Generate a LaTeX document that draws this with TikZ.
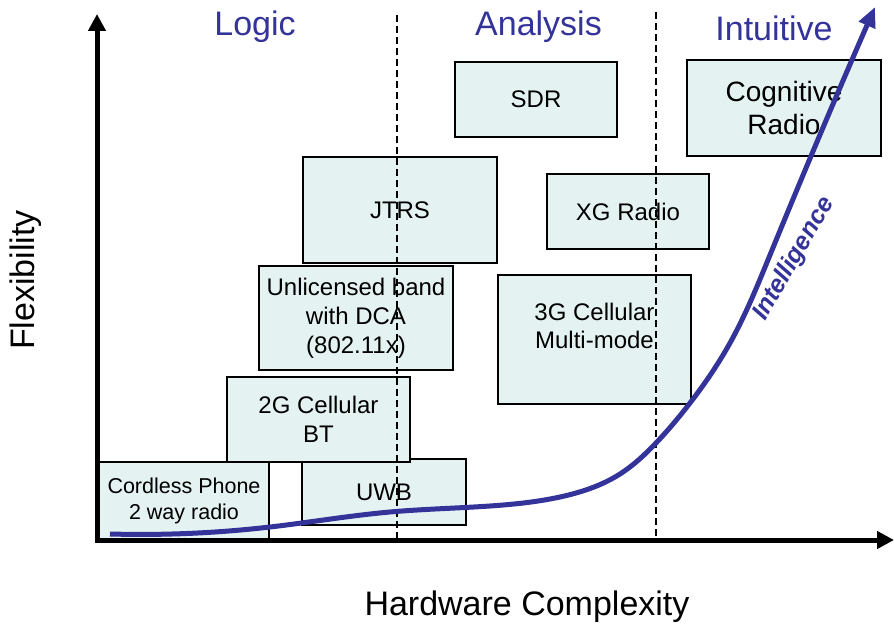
\documentclass[tikz,border=0pt]{standalone}
\usepackage{fontspec}
\setmainfont{Liberation Sans}
\usetikzlibrary{arrows.meta}
\usetikzlibrary{hobby}
\definecolor{boxfill}{RGB}{229,242,242}
\definecolor{smartblue}{RGB}{51,51,153}
\newcommand{\sizedfont}[1]{\fontsize{#1}{1.2\dimexpr #1pt\relax}\selectfont}
\tikzstyle{radio box}=[draw, line width=1.6pt, fill=boxfill, inner sep=0pt, align=center, font=\sizedfont{24}]
\tikzstyle{box text}=[align=center, font=\sizedfont{24}]
\tikzstyle{phase label}=[text=smartblue, font=\sizedfont{34}]
\tikzstyle{axis label}=[font=\sizedfont{34}]
\tikzstyle{axis}=[line width=5pt, -{Triangle[length=17pt, width=17pt]}]
\tikzstyle{phase divider}=[line width=1.5pt, dash pattern=on 7pt off 4pt]
\tikzstyle{growth curve}=[line width=5pt, draw=smartblue, -{Triangle[length=20pt, width=17pt]}]

\begin{document}
\begin{tikzpicture}[x=1pt, y=-1pt]
  \useasboundingbox (0,0) rectangle (894,628);
  % boxes
  \node[radio box, minimum width=170, minimum height=78, font=\sizedfont{21.5}] (cordless) at (184,501) {Cordless Phone\\2 way radio};
  \node[radio box, minimum width=164, minimum height=66] (uwb) at (384,492) {UWB};
  \node[radio box, minimum width=183, minimum height=85] (cellular_2g) at (318.5,419.5) {2G Cellular\\BT};
  \node[radio box, minimum width=194, minimum height=104] (unlicensed) at (356,318) {Unlicensed band\\with DCA\\(802.11x)};
  \node[radio box, minimum width=194, minimum height=106] (jtrs) at (400,210) {JTRS};
  \node[radio box, minimum width=193, minimum height=129] (cellular_3g) at (594.5,339.5) {};
  \node[box text] (cellular_3g_text) at (594.5,326) {3G Cellular\\Multi-mode};
  \node[radio box, minimum width=162, minimum height=75] (sdr) at (536,99.5) {SDR};
  \node[radio box, minimum width=162, minimum height=75] (xg_radio) at (628,211.5) {XG Radio};
  \node[radio box, minimum width=194, minimum height=96, font=\sizedfont{28}] (cognitive) at (784,108) {Cognitive\\Radio};

  % phases
  \draw[phase divider] (397,15) -- (397,541);
  \draw[phase divider] (656,12) -- (656,541);
  \node[phase label] (logic) at (255,27) {Logic};
  \node[phase label] (analysis) at (538.5,27) {Analysis};
  \node[phase label] (intuitive) at (774,28) {Intuitive};

  % axes
  \coordinate (origin) at (97,540);
  \coordinate (y_tip) at (97,14);
  \coordinate (x_tip) at (894,540);
  \draw[axis] ([yshift=-2.5pt]origin) -- (y_tip);
  \draw[axis] ([xshift=-2.5pt]origin) -- (x_tip);
  \node[axis label, rotate=90] (flexibility) at (26,280) {Flexibility};
  \node[axis label] (hardware) at (527,607) {Hardware Complexity};

  % intelligence
  \draw[growth curve] (110,534) to[curve through={(270,527) .. (390,512) .. (490,506) .. (560,497) .. (620,474) .. (656,443) .. (690,403) .. (730,343) .. (770,255)}] (875,7);
  \node[rotate=60, text=smartblue, font=\sizedfont{25}\bfseries\itshape] (intelligence) at (794,259) {Intelligence};
\end{tikzpicture}
\end{document}
